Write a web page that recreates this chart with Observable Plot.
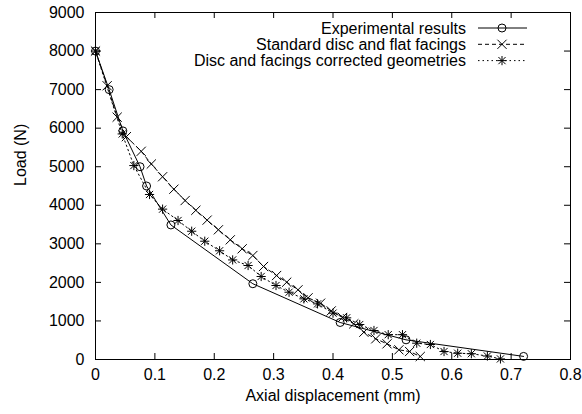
<!DOCTYPE html>
<html><head><meta charset="utf-8">
<script src="https://cdn.jsdelivr.net/npm/d3@7"></script>
<script src="https://cdn.jsdelivr.net/npm/@observablehq/plot@0.6"></script>
<style>
body{margin:0;background:#fff}
svg{font-family:"Liberation Sans",Arial,Helvetica,sans-serif}
</style>
</head><body><div id="chart"></div>
<script>
// ---- data ----
const seriesNames = ["Experimental results", "Standard disc and flat facings", "Disc and facings corrected geometries"];

const expX = [0, 0.023, 0.046, 0.075, 0.086, 0.127, 0.265, 0.412, 0.523, 0.721];
const expY = [8000, 7000, 5930, 5000, 4500, 3490, 1965, 960, 510, 80];

const stdX = [0, 0.0196, 0.0365, 0.052, 0.077, 0.094, 0.113, 0.132, 0.151, 0.169, 0.188, 0.207, 0.227, 0.247, 0.265, 0.283, 0.305, 0.322, 0.341, 0.358, 0.379, 0.397, 0.416, 0.435, 0.452, 0.472, 0.491, 0.511, 0.529, 0.547];
const stdY = [8000, 7100, 6285, 5780, 5400, 5070, 4740, 4417, 4123, 3870, 3615, 3364, 3104, 2871, 2697, 2412, 2178, 2005, 1807, 1600, 1460, 1260, 1090, 925, 708, 536, 407, 251, 207, 78];

const corX = [0, 0.045, 0.0646, 0.091, 0.113, 0.139, 0.162, 0.184, 0.209, 0.231, 0.257, 0.279, 0.304, 0.326, 0.351, 0.374, 0.400, 0.423, 0.445, 0.469, 0.493, 0.517, 0.541, 0.564, 0.587, 0.610, 0.633, 0.660, 0.682];
const corY = [8000, 5850, 5030, 4280, 3900, 3605, 3327, 3068, 2820, 2583, 2438, 2153, 1919, 1745, 1573, 1443, 1202, 1081, 907, 752, 644, 644, 423, 389, 207, 163, 150, 90, 15];

const xTicks = [0, 0.1, 0.2, 0.3, 0.4, 0.5, 0.6, 0.7, 0.8];
const yTicks = [0, 1000, 2000, 3000, 4000, 5000, 6000, 7000, 8000, 9000];
const xLabel = "Axial displacement (mm)";
const yLabel = "Load (N)";

// ---- helpers ----
const rows = (xs, ys) => xs.map((x, i) => ({x, y: ys[i]}));
const expData = rows(expX, expY), stdData = rows(stdX, stdY), corData = rows(corX, corY);

const timesSym = {draw(ctx, size){ const r = Math.sqrt(size/Math.PI); ctx.moveTo(-r,-r); ctx.lineTo(r,r); ctx.moveTo(-r,r); ctx.lineTo(r,-r); }};
const starSym = {draw(ctx, size){ const r = Math.sqrt(size/Math.PI); const d = r*0.78;
  ctx.moveTo(-r,0); ctx.lineTo(r,0); ctx.moveTo(0,-r); ctx.lineTo(0,r);
  ctx.moveTo(-d,-d); ctx.lineTo(d,d); ctx.moveTo(-d,d); ctx.lineTo(d,-d); }};

const W = 582, H = 414, mL = 95, mR = 12, mT = 12, mB = 55;
const innerW = W - mL - mR, innerH = H - mT - mB;
const tl = 6;
const dashStd = "4,3", dashCor = "1.5,3";

const svg = Plot.plot({
  width: W, height: H,
  marginLeft: mL, marginRight: mR, marginTop: mT, marginBottom: mB,
  style: {fontSize: "16px", background: "white", color: "black", fontFamily: '"Liberation Sans",Arial,sans-serif'},
  x: {domain: [0, 0.8]},
  y: {domain: [0, 9000]},
  marks: [
    Plot.tickX(xTicks, {x: d => d, insetTop: innerH - tl, stroke: "black"}),
    Plot.tickX(xTicks, {x: d => d, insetBottom: innerH - tl, stroke: "black"}),
    Plot.tickY(yTicks, {y: d => d, insetRight: innerW - tl, stroke: "black"}),
    Plot.tickY(yTicks, {y: d => d, insetLeft: innerW - tl, stroke: "black"}),
    Plot.axisX(xTicks, {tickSize: 0, tickPadding: 9, label: null, tickFormat: d => String(d), fontSize: 16, fill: "black"}),
    Plot.axisY(yTicks, {tickSize: 0, tickPadding: 11, label: null, tickFormat: d => String(d), fontSize: 16, fill: "black"}),
    Plot.text([xLabel], {text: d => d, frameAnchor: "bottom", dy: 41, fontSize: 16, fill: "black"}),
    Plot.text([yLabel], {text: d => d, frameAnchor: "left", dx: -75, rotate: -90, fontSize: 16, fill: "black"}),
    Plot.line(corData, {x: "x", y: "y", stroke: "black", strokeWidth: 1, strokeDasharray: dashCor}),
    Plot.line(stdData, {x: "x", y: "y", stroke: "black", strokeWidth: 1, strokeDasharray: dashStd}),
    Plot.line(expData, {x: "x", y: "y", stroke: "black", strokeWidth: 1}),
    Plot.dot(corData, {x: "x", y: "y", symbol: starSym, r: 4.6, stroke: "black", fill: "none", strokeWidth: 1}),
    Plot.dot(stdData, {x: "x", y: "y", symbol: timesSym, r: 4.6, stroke: "black", fill: "none", strokeWidth: 1}),
    Plot.dot(expData, {x: "x", y: "y", r: 4, stroke: "black", fill: "none", strokeWidth: 1}),
    Plot.frame({stroke: "black", strokeWidth: 1})
  ]
});
document.getElementById("chart").appendChild(svg);

// ---- legend (inside top-right of frame) ----
const lg = d3.select(svg).append("g").attr("font-size", 16).attr("fill", "black");
const legendRows = [
  {name: seriesNames[0], dash: null, sym: d3.symbolCircle, r: 4},
  {name: seriesNames[1], dash: dashStd, sym: timesSym, r: 4.6},
  {name: seriesNames[2], dash: dashCor, sym: starSym, r: 4.6}
];
legendRows.forEach((row, i) => {
  const yy = 28 + i * 16.3;
  lg.append("text").attr("x", 466).attr("y", yy).attr("dy", "0.35em").attr("text-anchor", "end").text(row.name);
  lg.append("line").attr("x1", 478).attr("x2", 527).attr("y1", yy).attr("y2", yy)
    .attr("stroke", "black").attr("stroke-dasharray", row.dash);
  lg.append("path").attr("transform", `translate(502,${yy})`)
    .attr("d", d3.symbol(row.sym, Math.PI * row.r * row.r)())
    .attr("fill", "none").attr("stroke", "black");
});
</script>
</body></html>
